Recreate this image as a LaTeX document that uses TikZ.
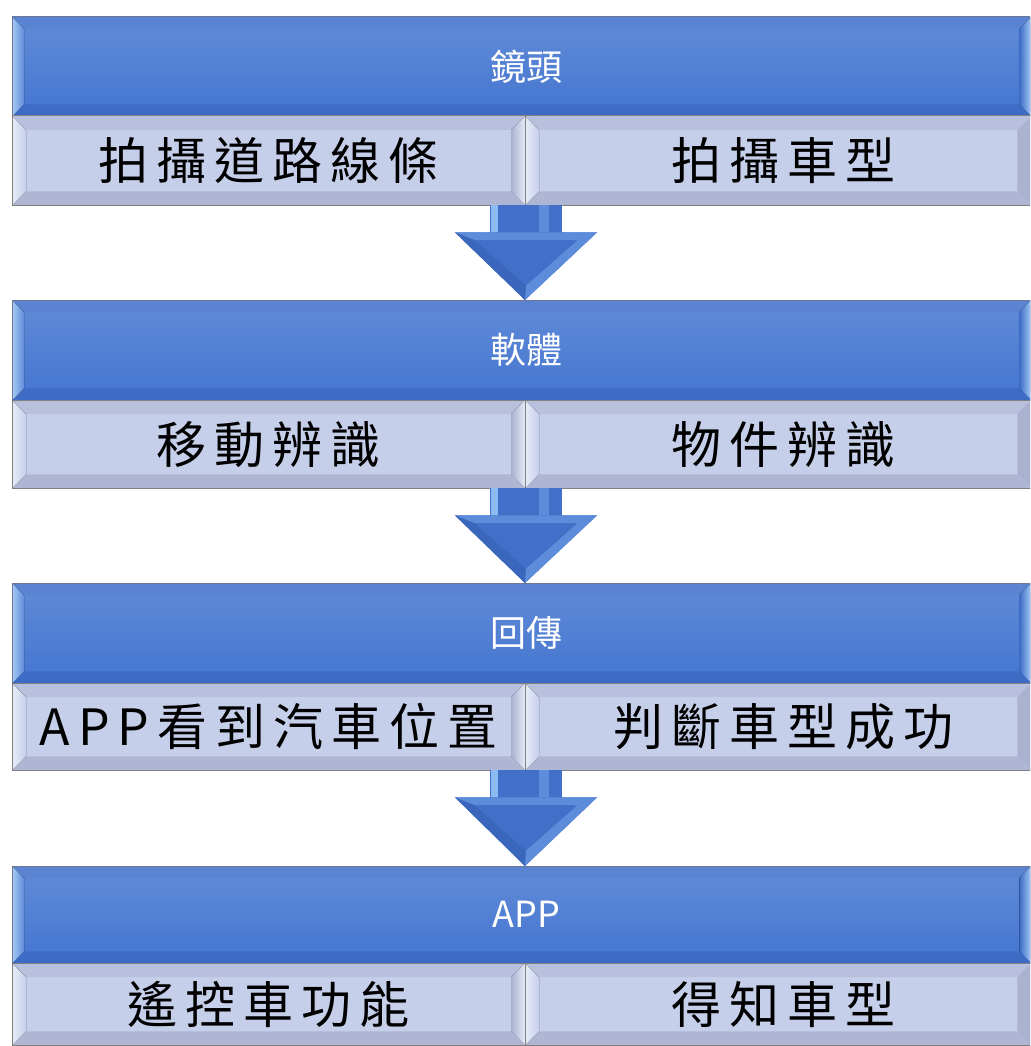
\documentclass[tikz,border=0pt]{standalone}
\usepackage{fontspec}
\newfontfamily\cjk{Noto Sans CJK TC}
\newfontfamily\cjksp[LetterSpace=16]{Noto Sans CJK TC}
\usetikzlibrary{calc}
\definecolor{hdtop}{RGB}{96,139,215}
\definecolor{hdbot}{RGB}{68,117,208}
\definecolor{hdlight}{RGB}{165,205,248}
\definecolor{hdrim}{RGB}{90,132,210}
\definecolor{hddark}{RGB}{62,108,196}
\definecolor{hdline}{RGB}{110,120,150}
\definecolor{subfill}{RGB}{198,207,234}
\definecolor{subtop}{RGB}{184,192,222}
\definecolor{sublight}{RGB}{232,236,247}
\definecolor{subright}{RGB}{170,178,208}
\definecolor{subbot}{RGB}{174,182,212}
\definecolor{arrowblue}{RGB}{66,112,200}
\definecolor{arrowlight}{RGB}{140,186,242}
\definecolor{arrowmid}{RGB}{92,140,218}
\definecolor{arrowdark}{RGB}{58,102,188}
% #1 node, #2 depth, #3 top, #4 right, #5 bottom, #6 left, #7 border colour
\newcommand\bevelbox[7]{%
  \fill[#3] (#1.north west) -- (#1.north east) -- ([shift={(-#2,#2)}]#1.north east) -- ([shift={(#2,#2)}]#1.north west) -- cycle;
  \fill[#4] (#1.north east) -- (#1.south east) -- ([shift={(-#2,-#2)}]#1.south east) -- ([shift={(-#2,#2)}]#1.north east) -- cycle;
  \fill[#5] (#1.south east) -- (#1.south west) -- ([shift={(#2,-#2)}]#1.south west) -- ([shift={(-#2,-#2)}]#1.south east) -- cycle;
  \fill[#6] (#1.south west) -- (#1.north west) -- ([shift={(#2,#2)}]#1.north west) -- ([shift={(#2,-#2)}]#1.south west) -- cycle;
  \draw[#7, line width=1pt] (#1.north west) rectangle (#1.south east);
}
% block arrow from the bottom of the sub row (#1, its south west corner) to header #2
\newcommand\blockarrow[2]{%
  \coordinate (s) at (#1.south west);
  \coordinate (e) at (#2.north -| #1.south west);
  \fill[arrowblue] ([xshift=-35]s) rectangle ([shift={(37,34)}]s);
  \fill[arrowlight] ([xshift=-34]s) rectangle ([shift={(-27,34)}]s);
  \fill[arrowmid] ([xshift=14]s) rectangle ([shift={(24,34)}]s);
  \fill[arrowblue] ([shift={(-70,27)}]s) -- ([shift={(72,27)}]s) -- (e) -- cycle;
  \fill[arrowmid] ([shift={(-70,27)}]s) -- ([shift={(72,27)}]s) -- ([shift={(52,35)}]s) -- ([shift={(-50,35)}]s) -- cycle;
  \fill[arrowdark] ([shift={(-50,35)}]s) -- ([shift={(1,80)}]s) -- (e) -- ([shift={(-70,27)}]s) -- cycle;
  \fill[arrowmid] ([shift={(52,35)}]s) -- ([shift={(1,80)}]s) -- (e) -- ([shift={(72,27)}]s) -- cycle;
  \fill[arrowblue] ([shift={(-50,35)}]s) -- ([shift={(52,35)}]s) -- ([shift={(1,80)}]s) -- cycle;
}
\tikzset{
  header/.style={rectangle, inner sep=0pt, minimum width=1019pt,
    anchor=north west, top color=hdtop, bottom color=hdbot, text=white,
    font=\cjk\fontsize{36}{40}\selectfont},
  subbox/.style={rectangle, inner sep=0pt, anchor=north west,
    fill=subfill, text=black, font=\cjksp\fontsize{50}{58}\selectfont},
}
\begin{document}
\begin{tikzpicture}[x=1pt, y=-1pt]
\useasboundingbox (0,0) rectangle (1030,1046);
\clip (0,0) rectangle (1030,1046);
\fill[white] (0,0) rectangle (1030,1046);
\foreach \i/\t/\hh/\sh/\hd/\lt/\rt in {1/17/99/89/鏡頭/拍攝道路線條/拍攝車型,
                                2/300/100/88/軟體/移動辨識/物件辨識,
                                3/583/100/87/回傳/APP看到汽車位置/判斷車型成功,
                                4/866/97/82/APP/遙控車功能/得知車型}{
  \node[header, minimum height=\hh pt] (h\i) at (12,\t) {\hspace*{10pt}\hd};
  \bevelbox{h\i}{12}{fill=hdrim}{left color=hddark, right color=hdlight}{fill=hddark}{left color=hdlight, right color=hdtop}{hdline}
  \node[subbox, minimum width=513pt, minimum height=\sh pt] (l\i) at (12,\t+\hh) {\lt};
  \node[subbox, minimum width=506pt, minimum height=\sh pt] (r\i) at (525,\t+\hh) {\hspace*{10pt}\rt};
  \bevelbox{l\i}{14}{fill=subtop}{left color=subright, right color=sublight}{fill=subbot}{left color=sublight, right color=subfill}{gray}
  \bevelbox{r\i}{14}{fill=subtop}{fill=subright}{fill=subbot}{left color=sublight, right color=subfill}{gray}
}
\foreach \i/\j in {1/2,2/3,3/4}{
  \blockarrow{r\i}{h\j}
}
\end{tikzpicture}
\end{document}
